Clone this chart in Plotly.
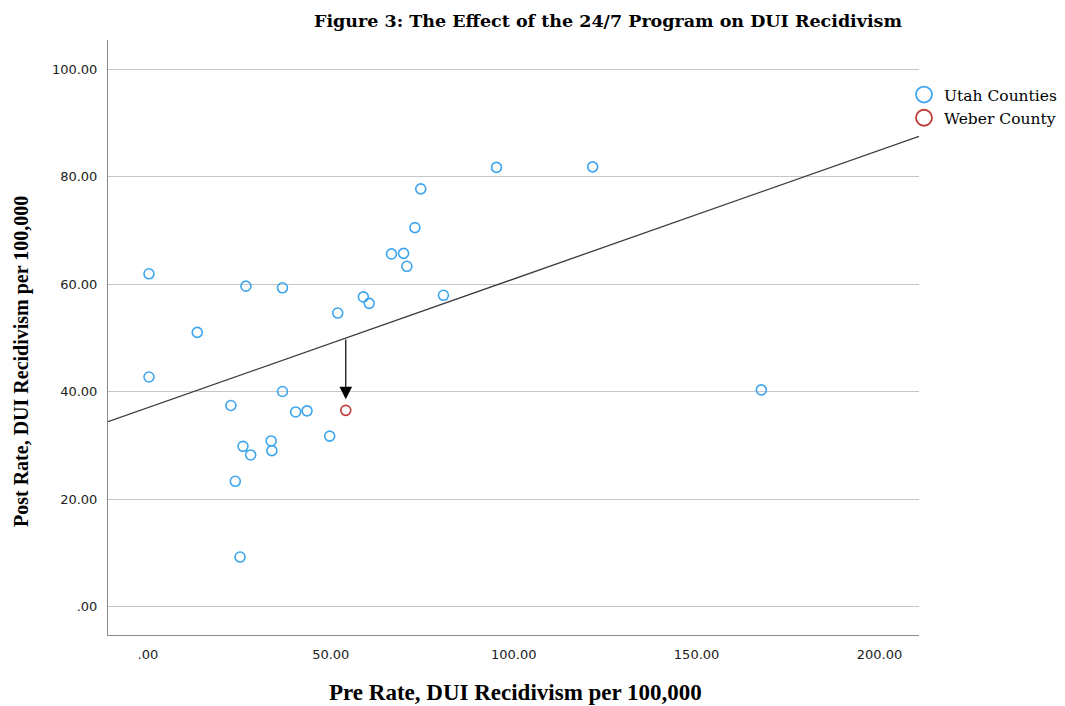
import plotly.graph_objects as go

# ---- data ----
utah_pre = [0.3, 0.3, 13.5, 22.7, 26.8, 36.8, 26.0, 28.1, 23.9, 25.2, 33.7, 33.9, 36.8, 40.4,
            43.5, 49.7, 51.9, 58.9, 60.5, 66.6, 69.9, 70.8, 73.0, 74.6, 80.8, 95.3, 121.6, 167.7]
utah_post = [61.9, 42.7, 51.0, 37.4, 59.6, 59.3, 29.8, 28.2, 23.3, 9.2, 30.8, 29.0, 40.0, 36.2,
             36.4, 31.7, 54.6, 57.6, 56.4, 65.6, 65.7, 63.3, 70.5, 77.7, 57.9, 81.7, 81.8, 40.3]
weber_pre = [54.1]
weber_post = [36.5]

fit_intercept = 37.0
fit_slope = 0.2394

x_range = [-10.9, 210.8]
y_range = [-5.3, 105.4]
x_ticks = [0, 50, 100, 150, 200]
x_tick_text = [".00", "50.00", "100.00", "150.00", "200.00"]
y_ticks = [0, 20, 40, 60, 80, 100]
y_tick_text = [".00", "20.00", "40.00", "60.00", "80.00", "100.00"]

blue = "#3DA5EE"
red = "#C03A3A"
serif = "DejaVu Serif"

# the page body adds an 8px offset; work in figure pixels
OFF = 8
W, H = 1065, 706 - OFF
PL, PR, PT, PB = 108 - OFF, 919 - OFF, 40 - OFF, 635 - OFF  # plot box in figure px
PW, PH = PR - PL, PB - PT


def px_x(sx):  # screen x -> paper x
    return (sx - OFF - PL) / PW


def px_y(sy):  # screen y -> paper y
    return (PB - (sy - OFF)) / PH


fig = go.Figure()

line_x = list(x_range)
line_y = [fit_intercept + fit_slope * v for v in line_x]
fig.add_trace(go.Scatter(x=line_x, y=line_y, mode="lines",
                         line=dict(color="#3a3a3a", width=1.3),
                         showlegend=False, hoverinfo="skip"))

fig.add_trace(go.Scatter(x=utah_pre, y=utah_post, mode="markers", name="Utah Counties",
                         marker=dict(symbol="circle-open", size=10, color=blue,
                                     line=dict(width=1.6, color=blue)),
                         showlegend=False))
fig.add_trace(go.Scatter(x=weber_pre, y=weber_post, mode="markers", name="Weber County",
                         marker=dict(symbol="circle-open", size=10, color=red,
                                     line=dict(width=1.6, color=red)),
                         showlegend=False))

fig.add_trace(go.Scatter(x=[None], y=[None], mode="markers", name="Utah Counties",
                         marker=dict(symbol="circle-open", size=16, color=blue,
                                     line=dict(width=1.8, color=blue))))
fig.add_trace(go.Scatter(x=[None], y=[None], mode="markers", name="Weber County",
                         marker=dict(symbol="circle-open", size=16, color=red,
                                     line=dict(width=1.8, color=red))))

weber_fit = fit_intercept + fit_slope * weber_pre[0]
fig.add_annotation(x=weber_pre[0], y=weber_post[0], ax=weber_pre[0], ay=weber_fit,
                   xref="x", yref="y", axref="x", ayref="y", text="",
                   showarrow=True, arrowhead=2, arrowsize=2.1, arrowwidth=1.2,
                   arrowcolor="#000000", standoff=11)

fig.update_layout(
    width=W, height=H,
    margin=dict(l=PL, r=W - PR, t=PT, b=H - PB, autoexpand=False),
    paper_bgcolor="white", plot_bgcolor="white",
    title=dict(text="<b>Figure 3: The Effect of the 24/7 Program on DUI Recidivism</b>",
               x=(608 - OFF) / W, xanchor="center", y=1 - (21 - OFF) / H, yanchor="middle",
               font=dict(family=serif, size=17.5, color="#000000")),
    legend=dict(x=px_x(904), xanchor="left", y=px_y(78), yanchor="top",
                font=dict(family=serif, size=15.5, color="#000000"),
                bgcolor="rgba(0,0,0,0)", itemwidth=30, tracegroupgap=0),
    xaxis=dict(range=x_range, tickvals=x_ticks, ticktext=x_tick_text,
               showgrid=False, zeroline=False, showline=True, linecolor="#8a8a8a",
               linewidth=1, ticks="", tickfont=dict(family="DejaVu Sans", size=13, color="#222"),
               ticklabelstandoff=7),
    yaxis=dict(range=y_range, tickvals=y_ticks, ticktext=y_tick_text,
               showgrid=True, gridcolor="#c6c6c6", gridwidth=1, zeroline=False,
               showline=True, linecolor="#8a8a8a", linewidth=1, ticks="",
               tickfont=dict(family="DejaVu Sans", size=13, color="#222"),
               ticklabelstandoff=7),
)

fig.add_annotation(text="<b>Pre Rate, DUI Recidivism per 100,000</b>",
                   xref="paper", yref="paper", x=px_x(515), y=px_y(692),
                   xanchor="center", yanchor="middle", showarrow=False,
                   font=dict(family="Liberation Serif", size=23, color="#000000"))
fig.add_annotation(text="<b>Post Rate, DUI Recidivism per 100,000</b>",
                   xref="paper", yref="paper", x=px_x(21), y=px_y(362),
                   xanchor="center", yanchor="middle", showarrow=False, textangle=-90,
                   font=dict(family="Liberation Serif", size=20, color="#000000"))

fig.write_html("out.html")
